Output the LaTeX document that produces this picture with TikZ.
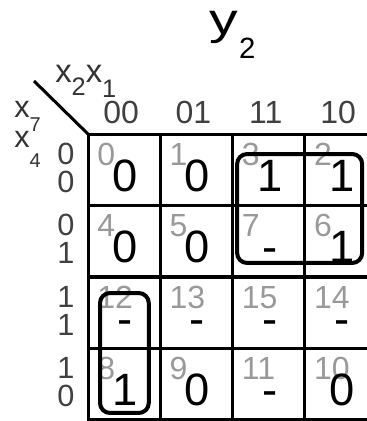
\documentclass[tikz,border=0pt]{standalone}
\usepackage{fontspec}
\setmainfont{Liberation Sans}
\usepackage{tikz}
\usetikzlibrary{calc}

\begin{document}
\begin{tikzpicture}[x=0.75pt, y=-0.75pt,
  cell/.style={draw, line width=2.25pt, minimum width=54.2pt, minimum height=53.6pt, inner sep=0pt, outer sep=0pt},
  grp/.style={draw, line width=3pt, rounded corners=7.5pt},
  idx/.style={inner sep=0pt, text=black!40, font=\fontsize{24}{24}\selectfont},
  val/.style={inner sep=0pt, font=\fontsize{34}{34}\selectfont},
  hdr/.style={inner sep=0pt, text=black!75, font=\fontsize{24}{24}\selectfont},
  rowlbl/.style={inner sep=0pt, align=center, text=black!75, font=\fontsize{23}{21}\selectfont},
  var/.style={inner sep=0pt, anchor=base west, text=black!80}]
\useasboundingbox (0,0) rectangle (367,421);
\clip (0,0) rectangle (367,421);
\foreach \idx/\col/\row/\val in {0/0/0/0, 1/1/0/0, 3/2/0/1, 2/3/0/1,
    4/0/1/0, 5/1/1/0, 7/2/1/-, 6/3/1/1,
    12/0/2/-, 13/1/2/-, 15/2/2/-, 14/3/2/-,
    8/0/3/1, 9/1/3/0, 11/2/3/-, 10/3/3/0} {
  \node[cell] (c\idx) at (124.15+72.3*\col, 169.75+71.5*\row) {};
  \node[idx, anchor=base west] (n\idx) at ($(c\idx.north west)+(9,31)$) {\idx};
  \node[val, anchor=base] (v\idx) at ($(c\idx.north)+(1,57)$) {\val};
}
\foreach \col/\t in {0/00, 1/01, 2/11, 3/10}
  \node[hdr, anchor=base] (h\col) at (121.15+72.3*\col, 123) {\t};
\foreach \row/\a/\b in {0/0/0, 1/0/1, 2/1/1, 3/1/0}
  \node[rowlbl] (r\row) at (66, 167.5+71.5*\row) {\a\\\b};
\coordinate (diag) at (34,81);
\draw[line width=2.25pt] (diag) -- (c0.north west);
\node[var, text=black, font=\fontsize{33}{33}\selectfont] (ttl) at (209,34) {\scalebox{1.3}[1]{y}\kern1pt\raisebox{-18pt}{\fontsize{22}{22}\selectfont 2}};
\node[var, font=\fontsize{24.6}{24.6}\selectfont] (x21) at (55,82) {x\raisebox{-9.75pt}{\fontsize{19}{19}\selectfont 2}x\raisebox{-11.25pt}{\fontsize{19}{19}\selectfont 1}};
\node[var, font=\fontsize{23}{23}\selectfont] (x7) at (14,117) {x\raisebox{-10.5pt}{\fontsize{15}{15}\selectfont 7}};
\node[var, font=\fontsize{23}{23}\selectfont] (x4) at (14,147) {x\raisebox{-15pt}{\fontsize{15}{15}\selectfont 4}};
\draw[grp] ($(c3.north west)+(4.5,20)$) rectangle ($(c6.south east)+(-15,-14)$);
\draw[grp] ($(c12.north west)+(12,16)$) rectangle ($(c8.south east)+(-11.5,-7)$);
\end{tikzpicture}
\end{document}
